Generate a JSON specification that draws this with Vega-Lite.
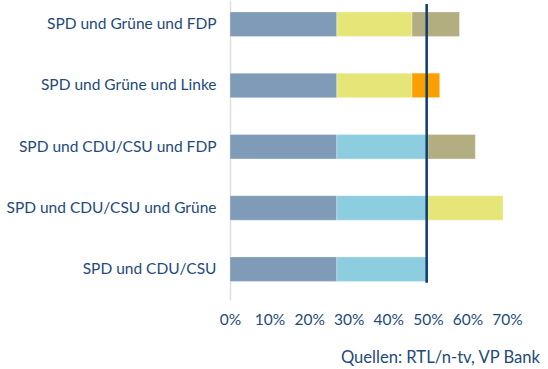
{
  "$schema": "https://vega.github.io/schema/vega-lite/v6.json",
  "width": 277,
  "height": 300,
  "autosize": {"type": "none"},
  "padding": {"left": 230, "top": 0, "right": 41, "bottom": 69},
  "background": "white",
  "title": {"text": "Quellen: RTL/n-tv, VP Bank", "orient": "bottom", "anchor": "end", "frame": "group", "dx": 33, "offset": 22, "font": "Lato", "fontSize": 16.6, "fontWeight": "normal", "color": "#244a7a"},
  "config": {"view": {"stroke": null}, "font": "Lato", "axisX": {"labelOverlap": false}},
  "layer": [
    {
      "data": {"values": [
        {"coalition": "SPD und Grüne und FDP", "party": "SPD", "value": 0.27, "order": 1},
        {"coalition": "SPD und Grüne und FDP", "party": "Grüne", "value": 0.19, "order": 2},
        {"coalition": "SPD und Grüne und FDP", "party": "FDP", "value": 0.12, "order": 3},
        {"coalition": "SPD und Grüne und Linke", "party": "SPD", "value": 0.27, "order": 1},
        {"coalition": "SPD und Grüne und Linke", "party": "Grüne", "value": 0.19, "order": 2},
        {"coalition": "SPD und Grüne und Linke", "party": "Linke", "value": 0.07, "order": 3},
        {"coalition": "SPD und CDU/CSU und FDP", "party": "SPD", "value": 0.27, "order": 1},
        {"coalition": "SPD und CDU/CSU und FDP", "party": "CDU/CSU", "value": 0.23, "order": 2},
        {"coalition": "SPD und CDU/CSU und FDP", "party": "FDP", "value": 0.12, "order": 3},
        {"coalition": "SPD und CDU/CSU und Grüne", "party": "SPD", "value": 0.27, "order": 1},
        {"coalition": "SPD und CDU/CSU und Grüne", "party": "CDU/CSU", "value": 0.23, "order": 2},
        {"coalition": "SPD und CDU/CSU und Grüne", "party": "Grüne", "value": 0.19, "order": 3},
        {"coalition": "SPD und CDU/CSU", "party": "SPD", "value": 0.27, "order": 1},
        {"coalition": "SPD und CDU/CSU", "party": "CDU/CSU", "value": 0.23, "order": 2}
      ]},
      "mark": {"type": "bar", "stroke": "white", "strokeWidth": 0.5, "strokeOpacity": 0.6},
      "encoding": {
        "y": {
          "field": "coalition", "type": "nominal",
          "scale": {"domain": ["SPD und Grüne und FDP", "SPD und Grüne und Linke", "SPD und CDU/CSU und FDP", "SPD und CDU/CSU und Grüne", "SPD und CDU/CSU"], "paddingInner": 0.6, "paddingOuter": 0.249, "align": 0.39},
          "axis": {"title": null, "ticks": false, "tickSize": 0, "labelPadding": 14, "labelLimit": 0, "labelFont": "Lato", "labelFontSize": 15.5, "labelColor": "#244a7a", "domainColor": "#e0e0e0", "domainWidth": 1.5, "grid": false}
        },
        "x": {
          "field": "value", "type": "quantitative", "stack": "zero",
          "scale": {"domain": [0, 0.7], "nice": false},
          "axis": {"title": null, "format": ".0%", "values": [0, 0.1, 0.2, 0.3, 0.4, 0.5, 0.6, 0.7], "labelOverlap": false, "ticks": false, "tickSize": 0, "labelPadding": 12, "domain": false, "grid": false, "labelFont": "Lato", "labelFontSize": 15.5, "labelColor": "#244a7a", "labelFlush": false}
        },
        "color": {
          "field": "party", "type": "nominal",
          "scale": {"domain": ["SPD", "CDU/CSU", "Grüne", "FDP", "Linke"], "range": ["#7f9bb7", "#8ccde0", "#e6e678", "#b2ae82", "#faa000"]},
          "legend": null
        },
        "order": {"field": "order", "type": "quantitative"}
      }
    },
    {
      "data": {"values": [{"x": 0.497, "top": "SPD und Grüne und FDP", "bottom": "SPD und CDU/CSU"}]},
      "mark": {"type": "rule", "color": "#0d3b6e", "strokeWidth": 2.5},
      "encoding": {
        "x": {"field": "x", "type": "quantitative", "axis": {"title": null, "format": ".0%", "values": [0, 0.1, 0.2, 0.3, 0.4, 0.5, 0.6, 0.7], "labelOverlap": false, "ticks": false, "tickSize": 0, "labelPadding": 12, "domain": false, "grid": false, "labelFont": "Lato", "labelFontSize": 15.5, "labelColor": "#244a7a", "labelFlush": false}},
        "y": {"field": "top", "type": "nominal", "bandPosition": -0.32},
        "y2": {"field": "bottom", "bandPosition": 1.06}
      }
    }
  ]
}
